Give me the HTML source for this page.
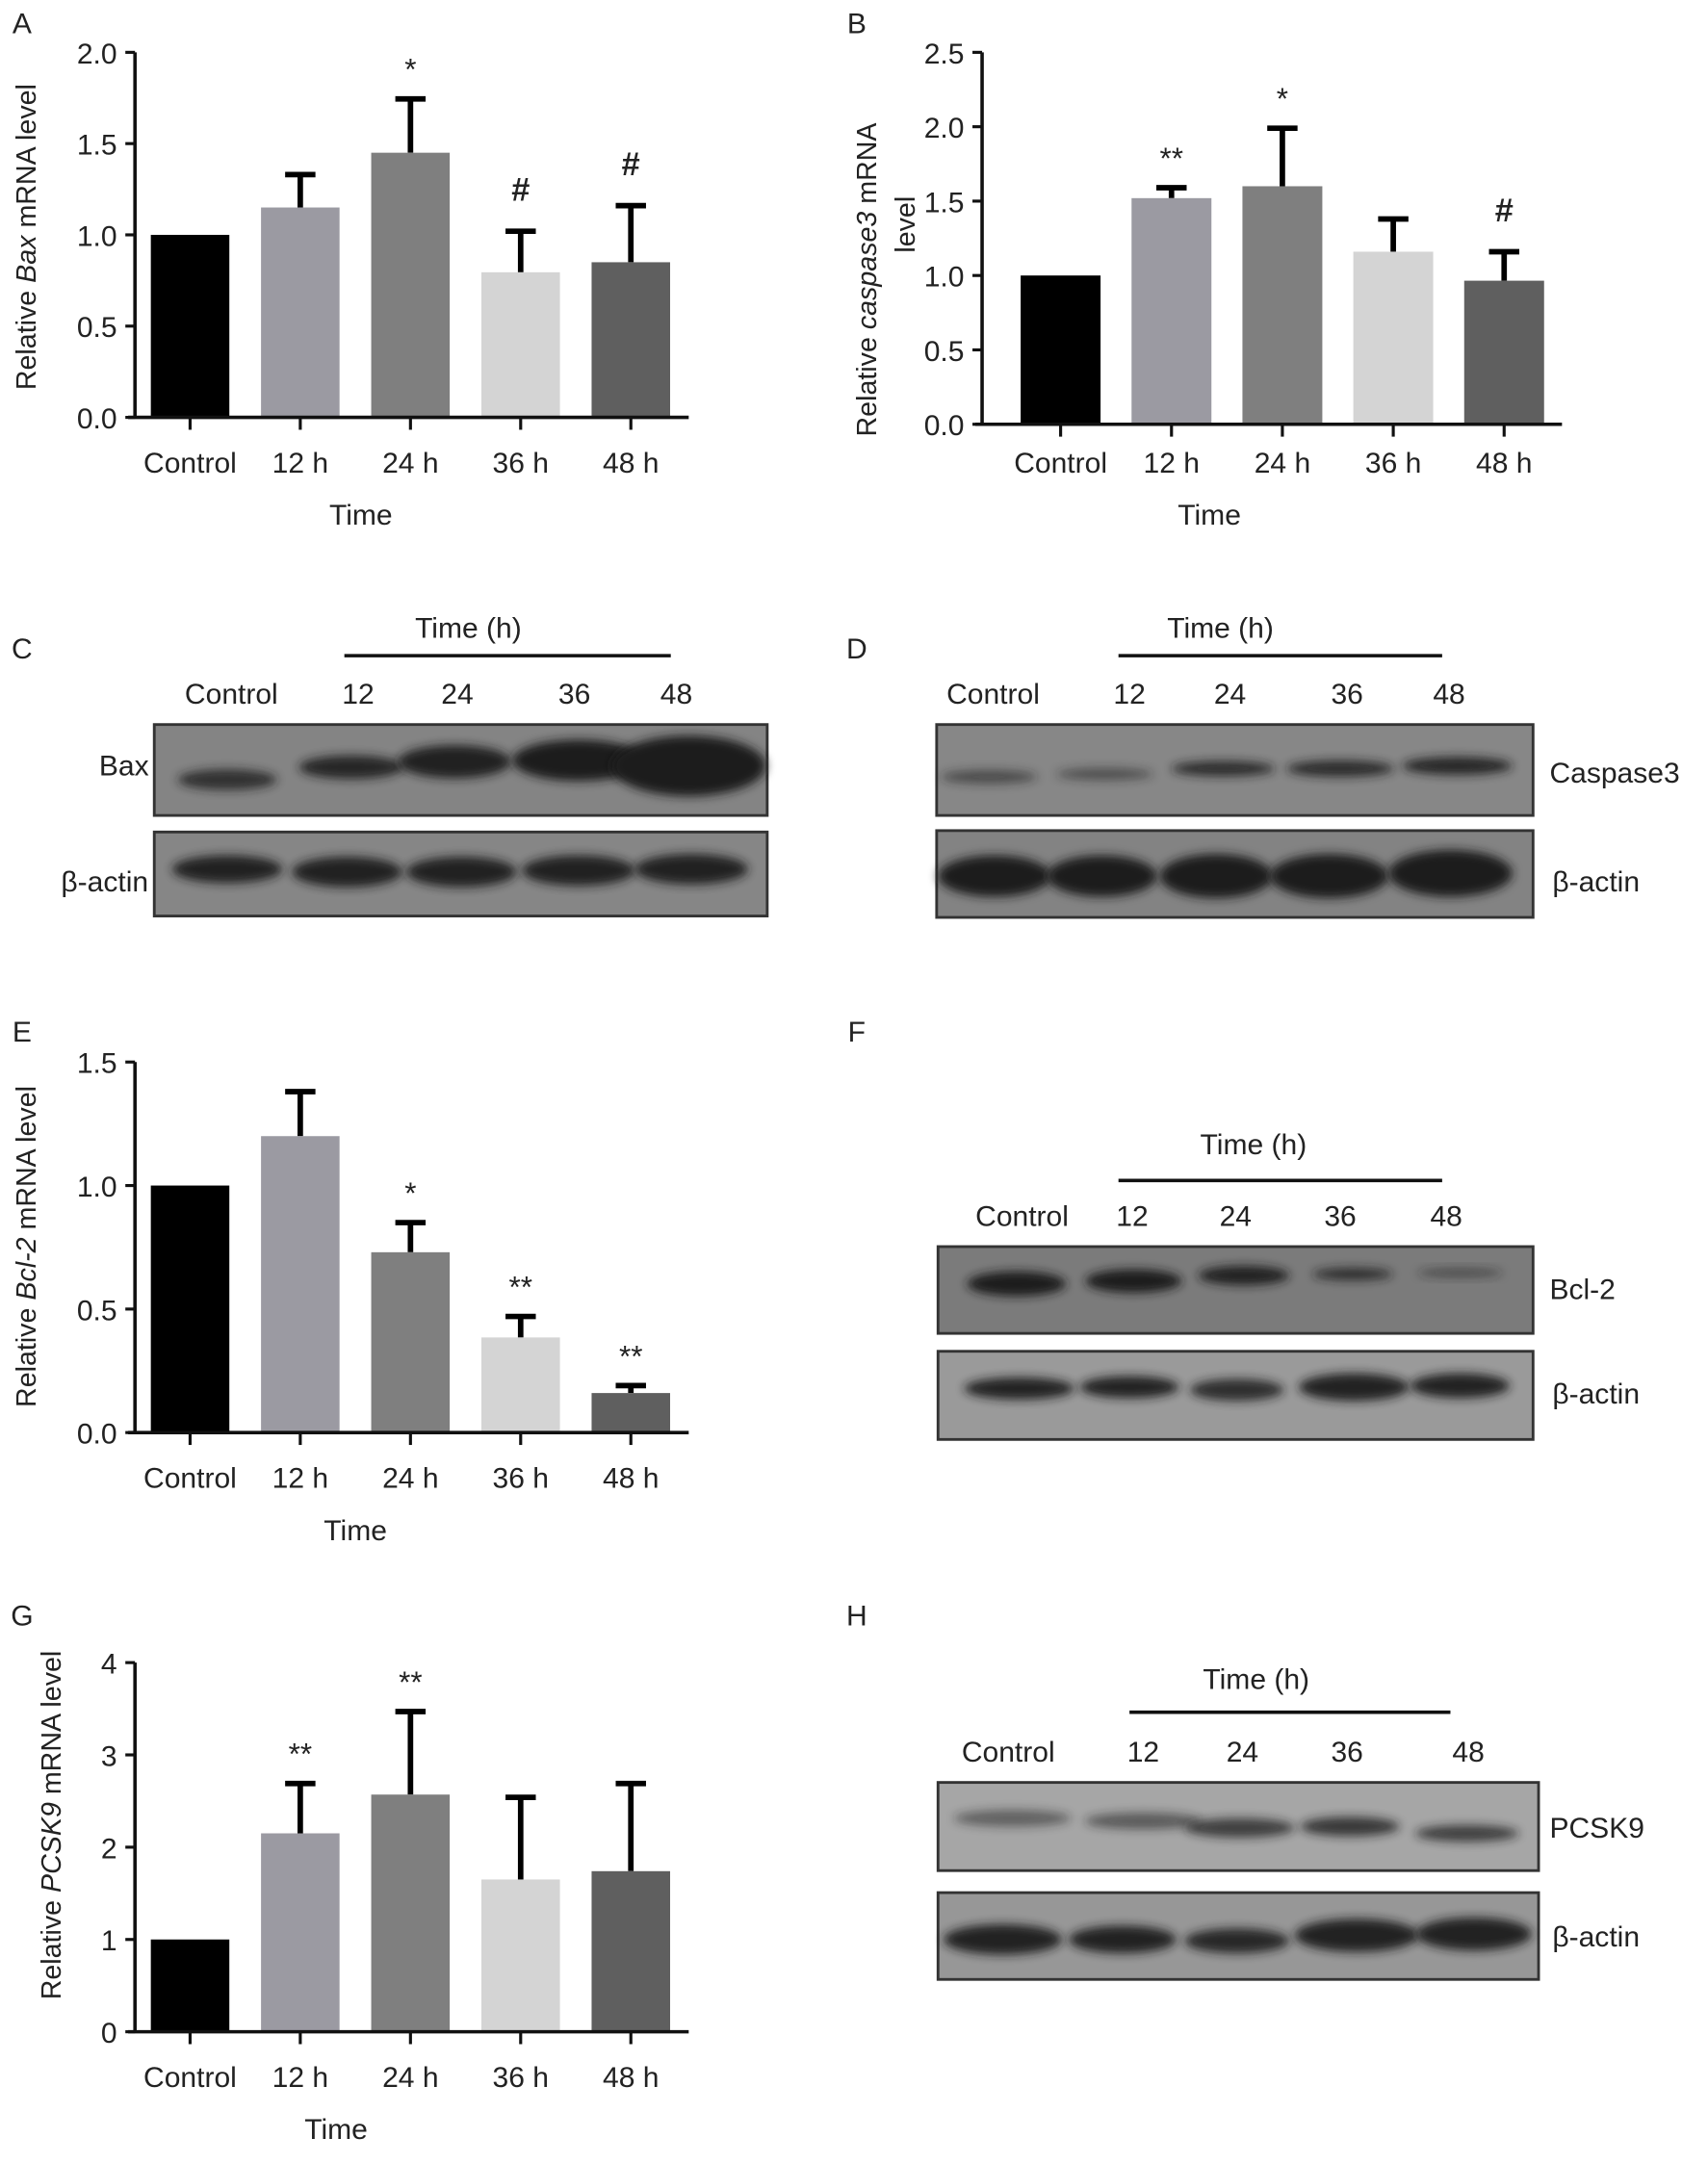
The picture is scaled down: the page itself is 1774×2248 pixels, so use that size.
<!DOCTYPE html>
<html><head><meta charset="utf-8"><style>
html,body{margin:0;padding:0;background:#fff}
svg{display:block}
text{font-family:"Liberation Sans",Arial,sans-serif;fill:#222}
</style></head><body>
<svg id="fig" width="1774" height="2248" viewBox="0 0 1240 1571" preserveAspectRatio="none" xmlns="http://www.w3.org/2000/svg">
<defs><filter id="blur" x="-30%" y="-80%" width="160%" height="260%"><feGaussianBlur stdDeviation="3.5"/></filter></defs>
<g id="root"></g>
</svg>
<script>
const categories = ["Control","12 h","24 h","36 h","48 h"];
const baxValues = [1.0,1.15,1.45,0.795,0.85];
const baxErrors = [0,0.18,0.295,0.225,0.31];
const baxMarks = ["","","*","#","#"];
const casValues = [1.0,1.52,1.60,1.16,0.965];
const casErrors = [0,0.07,0.39,0.22,0.195];
const casMarks = ["","**","*","","#"];
const bclValues = [1.0,1.20,0.73,0.385,0.16];
const bclErrors = [0,0.18,0.12,0.085,0.03];
const bclMarks = ["","","*","**","**"];
const pcsValues = [1.0,2.15,2.57,1.65,1.74];
const pcsErrors = [0,0.54,0.90,0.89,0.95];
const pcsMarks = ["","**","**","",""];
const ticksA = [0,0.5,1.0,1.5,2.0];
const ticksB = [0,0.5,1.0,1.5,2.0,2.5];
const ticksE = [0,0.5,1.0,1.5];
const ticksG = [0,1,2,3,4];
const barColors = ["#000000","#9b9aa2","#7f7f7f","#d4d4d4","#5f5f5f"];
const NS="http://www.w3.org/2000/svg";
const root=document.getElementById('root');
function mk(tag,attrs,parent,txt){const e=document.createElementNS(NS,tag);for(const k in attrs)e.setAttribute(k,attrs[k]);if(txt!==undefined)e.textContent=txt;(parent||root).appendChild(e);return e;}
function label(x,y,t,size,name,anchor){const e=mk('text',{x:x,y:y,'font-size':size,'text-anchor':anchor||'middle'},root,t);


return e;}

function chart(cfg){
  const g=mk('g',{});
  
  
  const ymax=cfg.ticks[cfg.ticks.length-1];
  const yScale=v=>cfg.y0-(cfg.y0-cfg.yTop)*v/ymax;
  const xScale=i=>cfg.x0+40+i*cfg.step+ (cfg.shift||0);
  const bw=cfg.bw;
  const lo=cfg.labOff||0;
  cfg.values.forEach((v,i)=>{
    const cx=xScale(i);
    const top=yScale(v);
    if(cfg.errors[i]>0){
      const et=yScale(v+cfg.errors[i]);
      const l=mk('line',{x1:cx,x2:cx,y1:top,y2:et,stroke:'#000','stroke-width':4},g);
      
      
      const c=mk('line',{x1:cx-11,x2:cx+11,y1:et,y2:et,stroke:'#000','stroke-width':4},g);
      
      
    }
    const r=mk('rect',{x:cx-bw/2,y:top,width:bw,height:cfg.y0-top,fill:barColors[i]},g);
    
    
    if(cfg.marks[i]){
      const et=yScale(v+cfg.errors[i]);
      const isHash=cfg.marks[i]==='#';
      const t=mk('text',{x:cx,y:et-(isHash?22:14),'font-size':isHash?24:22,'font-weight':isHash?'bold':'normal','text-anchor':'middle',fill:'#444'},g,cfg.marks[i]);
      
      
    }
    const tk=mk('line',{x1:cx,x2:cx,y1:cfg.y0,y2:cfg.y0+9,stroke:'#111','stroke-width':2.2},g);
    
    
    const tl=mk('text',{x:cx,y:cfg.y0+40+lo,'font-size':21,'text-anchor':'middle'},g,categories[i]);
    
    
  });
  const ya=mk('line',{x1:cfg.x0,x2:cfg.x0,y1:cfg.yTop,y2:cfg.y0+1,stroke:'#111','stroke-width':2.5},g);
  
  
  const xa=mk('line',{x1:cfg.x0-5,x2:xScale(4)+42,y1:cfg.y0,y2:cfg.y0,stroke:'#111','stroke-width':2.5},g);
  
  
  cfg.ticks.forEach(t=>{
    const y=yScale(t);
    const l=mk('line',{x1:cfg.x0-7,x2:cfg.x0,y1:y,y2:y,stroke:'#111','stroke-width':2.2},g);
    
    
    const s=cfg.dec?t.toFixed(1):String(t);
    const tl=mk('text',{x:cfg.x0-13,y:y+8,'font-size':21,'text-anchor':'end'},g,s);
    
    
  });
  const xt=mk('text',{x:cfg.timeX,y:cfg.y0+78+lo,'font-size':21,'text-anchor':'middle'},g,'Time');
  
  
  const yt=mk('text',{x:0,y:0,'font-size':20,'text-anchor':'middle',transform:`translate(${cfg.ytX},${cfg.ytY}) rotate(-90)`},g);
  
  
  cfg.ytParts.forEach(p=>{const s=mk('tspan',p[1]?{'font-style':'italic'}:{},yt,p[0]);});
  if(cfg.yt2){const y2=mk('text',{x:0,y:0,'font-size':20,'text-anchor':'middle',transform:`translate(${cfg.ytX+28},${cfg.ytY-40}) rotate(-90)`},g,cfg.yt2);
    
    }
}

chart({name:'chart-bax-mrna',x0:98,y0:303,yTop:38,ticks:ticksA,dec:true,values:baxValues,errors:baxErrors,marks:baxMarks,step:80,bw:57,timeX:262,ytX:26,ytY:172,ytParts:[["Relative ",0],["Bax",1],[" mRNA level",0]]});
chart({name:'chart-caspase3-mrna',x0:713,y0:308,yTop:38,ticks:ticksB,dec:true,values:casValues,errors:casErrors,marks:casMarks,step:80.5,bw:58,shift:17,labOff:-5,timeX:878,ytX:636,ytY:203,ytParts:[["Relative ",0],["caspase3",1],[" mRNA",0]],yt2:"level"});
chart({name:'chart-bcl2-mrna',x0:98,y0:1040,yTop:771,ticks:ticksE,dec:true,values:bclValues,errors:bclErrors,marks:bclMarks,step:80,bw:57,timeX:258,ytX:26,ytY:905,ytParts:[["Relative ",0],["Bcl-2",1],[" mRNA level",0]]});
chart({name:'chart-pcsk9-mrna',x0:98,y0:1475,yTop:1207,ticks:ticksG,dec:false,values:pcsValues,errors:pcsErrors,marks:pcsMarks,step:80,bw:57,timeX:244,ytX:44,ytY:1325,ytParts:[["Relative ",0],["PCSK9",1],[" mRNA level",0]]});

[["A",16,24],["B",622,24],["C",16,478],["D",622,478],["E",16,756],["F",622,756],["G",16,1180],["H",622,1180]].forEach(p=>label(p[1],p[2],p[0],21,'panel-label-'+p[0].toLowerCase(),'middle'));

function blot(name,x1,x2,y1,y2,bg,bands){
  const g=mk('g',{});
  
  
  mk('rect',{x:x1,y:y1,width:x2-x1,height:y2-y1,fill:bg,stroke:'#333','stroke-width':2},g);
  bands.forEach(b=>{const e=mk('ellipse',{cx:b[0],cy:b[1],rx:b[2]/2,ry:b[3]/2,fill:'#1a1a1a',opacity:b[4],filter:'url(#blur)'},g);
    
    });
}
function header(tx,ty,lx1,lx2,ly,lanes,ly2){
  label(tx,ty,'Time (h)',21,'time-header');
  const l=mk('line',{x1:lx1,x2:lx2,y1:ly,y2:ly,stroke:'#111','stroke-width':2.5});
  
  
  ["Control","12","24","36","48"].forEach((t,i)=>label(lanes[i],ly2,t,21,'lane-label'));
}
header(340,463,250,487,476,[168,260,332,417,491],511);
label(90,563,'Bax',21,'protein-label-bax');
label(76,647,'β-actin',21,'protein-label-actin','middle');
blot('blot-bax',112,557,526,592,'#848484',[[165,566,72,15,.8],[255,557,76,17,.9],[330,553,82,24,.95],[420,552,96,30,1],[500,556,112,44,1]]);
blot('blot-actin-c',112,557,604,665,'#868686',[[165,631,80,20,.95],[252,633,80,22,.95],[335,633,80,22,.95],[420,632,82,22,.95],[502,631,82,22,.95]]);
header(886,463,812,1047,476,[721,820,893,978,1052],511);
label(1125,568,'Caspase3',21,'protein-label-caspase3','start');
label(1127,647,'β-actin',21,'protein-label-actin','start');
blot('blot-caspase3',680,1113,526,592,'#878787',[[718,564,70,10,.55],[802,562,70,9,.5],[888,558,75,11,.85],[973,558,78,12,.85],[1058,556,80,13,.9]]);
blot('blot-actin-d',680,1113,603,666,'#838383',[[722,636,82,30,1],[800,636,80,30,1],[883,636,82,32,1],[965,636,86,32,1],[1053,634,90,34,1]]);
header(910,838,812,1047,857,[742,822,897,973,1050],890);
label(1125,943,'Bcl-2',21,'protein-label-bcl2','start');
label(1127,1019,'β-actin',21,'protein-label-actin','start');
blot('blot-bcl2',681,1113,905,968,'#7b7b7b',[[738,932,72,18,1],[823,930,70,17,1],[903,926,66,14,.95],[982,925,58,9,.8],[1060,924,62,6,.55]]);
blot('blot-actin-f',681,1113,981,1045,'#9a9a9a',[[740,1008,80,16,.95],[820,1007,72,16,.95],[898,1009,68,16,.85],[983,1007,80,20,.95],[1060,1006,72,18,.95]]);
header(912,1226,820,1053,1243,[732,830,902,978,1066],1279);
label(1125,1334,'PCSK9',21,'protein-label-pcsk9','start');
label(1127,1413,'β-actin',21,'protein-label-actin','start');
blot('blot-pcsk9',681,1117,1294,1358,'#a6a6a6',[[735,1320,85,12,.5],[830,1322,85,12,.55],[900,1327,80,14,.75],[980,1326,72,14,.8],[1065,1331,75,12,.75]]);
blot('blot-actin-h',681,1117,1374,1437,'#979797',[[728,1408,86,22,.95],[815,1408,78,20,.95],[898,1409,76,18,.9],[985,1405,90,24,.95],[1070,1404,84,24,.95]]);
</script>
</body></html>
